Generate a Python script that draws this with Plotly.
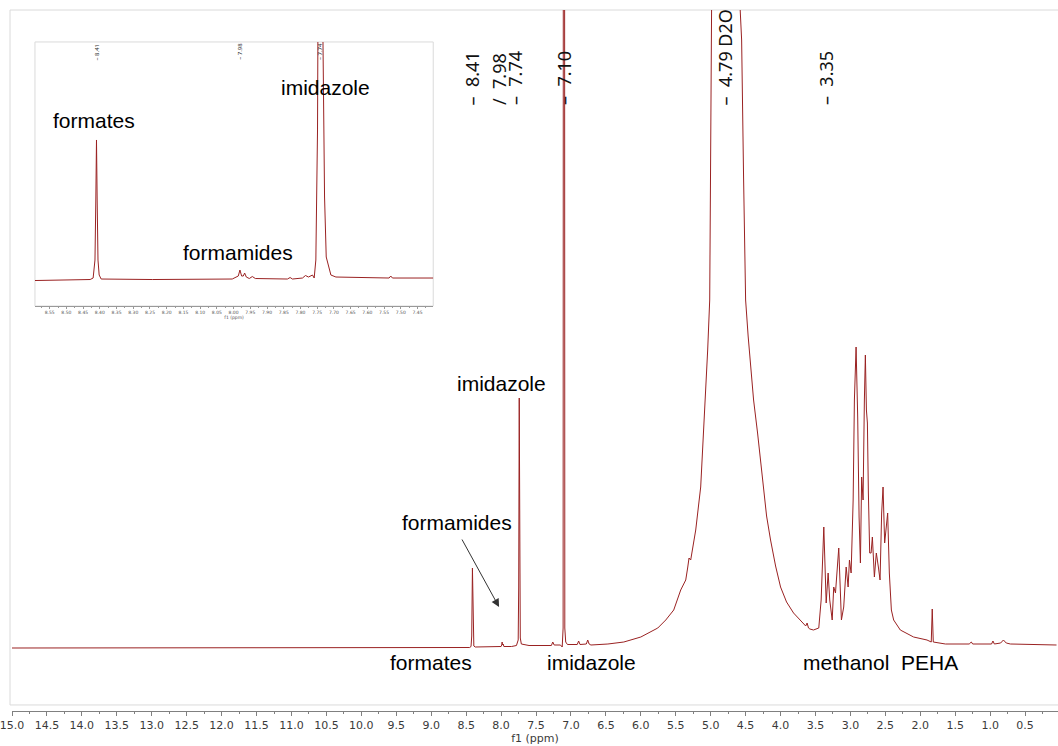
import plotly.graph_objects as go

# ---------------- main 1H spectrum (ppm, intensity, a.u.) ----------------
main_ppm = [15.0, 12.0, 9.0, 8.45, 8.43, 8.42, 8.41, 8.40, 8.39, 8.37,
            8.10, 8.00, 7.99, 7.985, 7.98, 7.97, 7.96, 7.85, 7.78, 7.755,
            7.748, 7.74, 7.732, 7.725, 7.71, 7.60, 7.40, 7.28, 7.26, 7.24,
            7.15, 7.125, 7.112, 7.10, 7.088, 7.075, 7.05, 6.91, 6.89, 6.87,
            6.78, 6.76, 6.74, 6.714, 6.471, 6.243, 6.00, 5.757, 5.643, 5.529,
            5.429, 5.357, 5.33, 5.31, 5.286, 5.26, 5.214, 5.143, 5.10, 5.043,
            5.014, 4.993, 4.971, 4.957, 4.77, 4.579, 4.557, 4.529, 4.50, 4.464,
            4.429, 4.386, 4.329, 4.286, 4.243, 4.20, 4.143, 4.071, 4.00, 3.914,
            3.814, 3.714, 3.64, 3.62, 3.60, 3.58, 3.529, 3.453, 3.419, 3.381,
            3.347, 3.319, 3.296, 3.261, 3.239, 3.214, 3.167, 3.129, 3.096, 3.061,
            3.033, 3.014, 2.990, 2.961, 2.943, 2.919, 2.896, 2.876, 2.857, 2.839,
            2.819, 2.800, 2.786, 2.771, 2.757, 2.743, 2.724, 2.704, 2.686, 2.657,
            2.629, 2.600, 2.576, 2.553, 2.533, 2.510, 2.486, 2.467, 2.443, 2.414,
            2.381, 2.286, 2.096, 1.904, 1.843, 1.829, 1.814, 1.714, 1.64, 1.30,
            1.27, 1.25, 0.98, 0.96, 0.94, 0.85, 0.81, 0.77, 0.71, 0.05]
main_int = [0.0, 0.3, 0.5, 0.5, 1.5, 12, 80, 12, 2, 1,
            1, 1.5, 3, 6, 3, 4, 1.5, 1.5, 2.5, 8,
            60, 250, 60, 10, 4, 2.5, 2.5, 2.5, 6, 3,
            3, 1, 20, 3000, 20, 6, 3.5, 3.5, 7, 3.5,
            4, 8, 4, 3, 4, 6, 11, 20, 28, 38,
            58, 68, 80, 90, 88, 98, 118, 161, 215, 298,
            348, 470, 608, 640, 3000, 640, 608, 470, 348, 312,
            281, 248, 215, 186, 161, 132, 108, 82, 61, 46,
            35, 27, 22, 25, 20, 19, 18, 20, 48, 121,
            45, 75, 48, 28, 61, 55, 100, 28, 41, 81,
            61, 88, 75, 148, 248, 301, 231, 131, 85, 171,
            148, 248, 293, 238, 225, 155, 95, 95, 111, 71,
            95, 81, 68, 135, 161, 105, 121, 135, 75, 38,
            28, 18, 11, 8, 6, 39, 6, 5, 4, 4,
            6, 4, 4, 7, 4, 5, 8, 5, 4, 3]

# ---------------- inset: 8.6 - 7.4 ppm expansion ----------------
inset_ppm = [8.594, 8.513, 8.429, 8.420, 8.4145, 8.412, 8.410, 8.408, 8.4055, 8.402,
             8.396, 8.243, 8.093, 8.004, 7.986, 7.981, 7.976, 7.971, 7.967, 7.962,
             7.953, 7.944, 7.935, 7.884, 7.839, 7.831, 7.824, 7.794, 7.785, 7.776,
             7.764, 7.759, 7.754, 7.749, 7.7465, 7.740, 7.7345, 7.728, 7.723, 7.718,
             7.709, 7.694, 7.600, 7.535, 7.530, 7.525, 7.403]
inset_int = [-0.5, 0, 0.5, 2, 20, 80, 140, 80, 20, 5,
             1, 0.5, 0.5, 1, 4, 10, 4, 4, 7, 3,
             1.5, 3.5, 1.5, 1, 1, 2.5, 1, 2, 4.5, 3,
             5, 2, 20, 150, 300, 900, 300, 83, 23, 17,
             5, 3, 2, 2, 4, 2, 2]

# peak-pick labels
label_ppm = [8.41, 8.03, 7.80, 7.10, 4.79, 3.35]
label_txt = ["8.41", "7.98", "7.74", "7.10", "4.79 D2O", "3.35"]
label_mark = ["\u2013", "/", "\u2013", "\u2013", "\u2013", "\u2013"]
inset_label_ppm = [8.41, 7.98, 7.74]
inset_label_txt = ["8.41", "7.98", "7.74"]

# assignment labels (ppm, intensity)
main_names = ["formates", "imidazole", "methanol\u00a0\u00a0PEHA", "imidazole", "formamides"]
main_name_ppm = [9.00, 6.70, 2.57, 7.99, 8.63]
main_name_int = [-14, -14, -14, 265, 126]
inset_names = ["formates", "imidazole", "formamides"]
inset_name_ppm = [8.417, 7.724, 7.986]
inset_name_int = [159, 192, 28]

LINE = "#9a2222"

fig = go.Figure()
fig.add_trace(go.Scatter(x=main_ppm, y=main_int, mode="lines",
                         line=dict(color=LINE, width=1), xaxis="x", yaxis="y",
                         showlegend=False, hoverinfo="skip"))
fig.add_trace(go.Scatter(x=inset_ppm, y=inset_int, mode="lines",
                         line=dict(color=LINE, width=1), xaxis="x2", yaxis="y2",
                         showlegend=False, hoverinfo="skip"))

ann = []
for p, t, m in zip(label_ppm, label_txt, label_mark):
    ann.append(dict(x=p, xref="x", y=0.8616, yref="paper", text=m + "\u00a0\u00a0" + t,
                    textangle=-90, showarrow=False, xanchor="center", yanchor="bottom",
                    font=dict(family="Noto Sans", size=18, color="#111")))
for p, t in zip(inset_label_ppm, inset_label_txt):
    ann.append(dict(x=p, xref="x2", y=218, yref="y2", text="\u2013 " + t,
                    textangle=-90, showarrow=False, xanchor="center", yanchor="bottom",
                    font=dict(family="Noto Sans", size=6, color="#333")))
for t, p, v in zip(main_names, main_name_ppm, main_name_int):
    ann.append(dict(x=p, xref="x", y=v, yref="y", text=t, showarrow=False,
                    xanchor="center", yanchor="middle",
                    font=dict(family="Liberation Sans", size=21, color="#000")))
for t, p, v in zip(inset_names, inset_name_ppm, inset_name_int):
    ann.append(dict(x=p, xref="x2", y=v, yref="y2", text=t, showarrow=False,
                    xanchor="center", yanchor="middle",
                    font=dict(family="Liberation Sans", size=21, color="#000")))
# arrow to formamides
ann.append(dict(x=8.029, y=41, xref="x", yref="y", ax=8.571, ay=110, axref="x", ayref="y",
                text="", showarrow=True, arrowhead=2, arrowsize=1.6, arrowwidth=1,
                arrowcolor="#333"))

shapes = [
    dict(type="rect", xref="paper", yref="paper", x0=-0.0019, x1=1.01, y0=0.0086, y1=1.0,
         line=dict(color="#dadada", width=1), fillcolor="rgba(0,0,0,0)", layer="below"),
    dict(type="rect", xref="x2 domain", yref="y2 domain", x0=0, x1=1, y0=0, y1=1,
         line=dict(color="#dadada", width=1), fillcolor="rgba(0,0,0,0)", layer="below"),
]

fig.update_layout(
    width=1058, height=746,
    margin=dict(l=10, r=0, t=10, b=35),
    paper_bgcolor="white", plot_bgcolor="rgba(0,0,0,0)",
    showlegend=False,
    annotations=ann, shapes=shapes,
    xaxis=dict(domain=[0, 1], range=[15.0, 0.029], anchor="y",
               showline=True, linecolor="#808080", linewidth=1,
               ticks="outside", ticklen=4, tickcolor="#808080", tickwidth=1,
               tick0=0, dtick=0.5, tickformat=".1f", ticklabeloverflow="allow",
               tickfont=dict(family="DejaVu Sans", size=11, color="#3a3a3a"),
               minor=dict(dtick=0.25, ticks="outside", ticklen=2, tickcolor="#808080"),
               showgrid=False, zeroline=False,
               title=dict(text="f1 (ppm)", standoff=2,
                          font=dict(family="DejaVu Sans", size=11, color="#3a3a3a"))),
    yaxis=dict(domain=[0, 1], range=[-63, 638], visible=False, anchor="x"),
    xaxis2=dict(domain=[0.02195, 0.4027], range=[8.594, 7.403], anchor="y2",
                showline=True, linecolor="#999", linewidth=1,
                ticks="outside", ticklen=2, tickcolor="#999",
                tick0=0, dtick=0.05, tickformat=".2f",
                tickfont=dict(family="DejaVu Sans", size=4.5, color="#555"),
                minor=dict(dtick=0.025, ticks="outside", ticklen=1, tickcolor="#999"),
                showgrid=False, zeroline=False,
                title=dict(text="f1 (ppm)", standoff=1,
                           font=dict(family="DejaVu Sans", size=4.5, color="#555"))),
    yaxis2=dict(domain=[0.5777, 0.9544], range=[-26, 238], visible=False, anchor="x2"),
)

fig.write_html("out.html")
